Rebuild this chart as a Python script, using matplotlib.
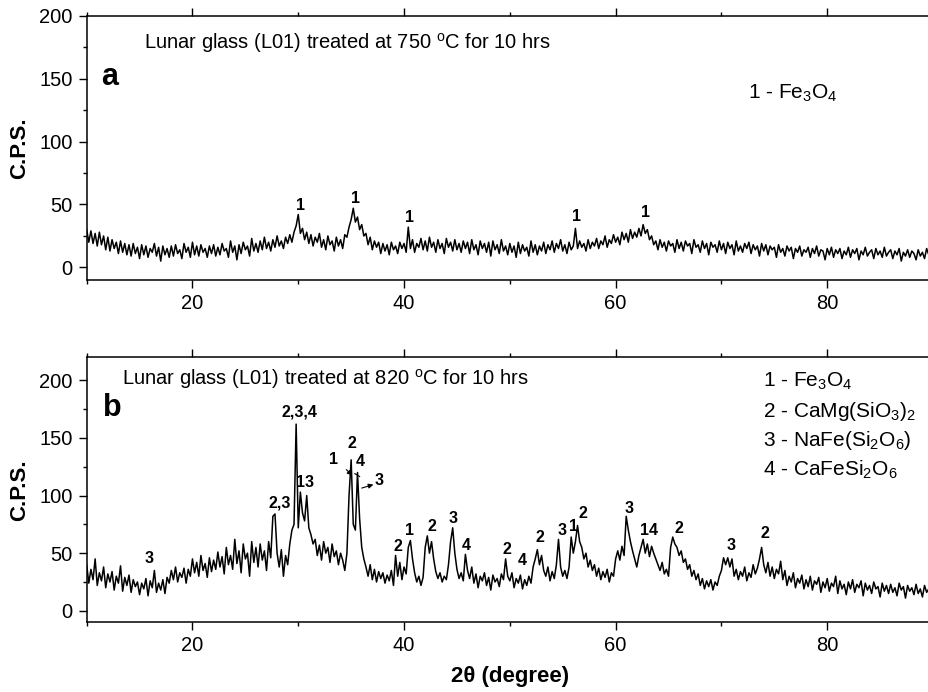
import numpy as np
import matplotlib
matplotlib.use('Agg')
import matplotlib.pyplot as plt
from matplotlib.ticker import MultipleLocator

plt.rcParams['font.family'] = ['Liberation Sans', 'DejaVu Sans']
plt.rcParams['mathtext.fontset'] = 'custom'
plt.rcParams['mathtext.rm'] = 'Liberation Sans'
plt.rcParams['mathtext.it'] = 'Liberation Sans:italic'
plt.rcParams['mathtext.bf'] = 'Liberation Sans:bold'

# 2theta grid, 0.2 degree step (20 values per row = 4 degrees)
two_theta = np.arange(10, 90.001, 0.2)

# (a) 750 C, counts
cps_750 = [
    30, 20, 29, 19, 27, 17, 28, 18, 25, 14, 24, 13, 22, 15, 20, 11, 21, 12, 19, 10,
    18, 9, 19, 11, 16, 7, 18, 10, 17, 8, 15, 12, 19, 9, 16, 5, 17, 10, 15, 8,
    17, 9, 18, 11, 14, 7, 19, 12, 16, 8, 20, 10, 17, 9, 18, 12, 15, 8, 17, 11,
    18, 9, 16, 10, 19, 13, 15, 8, 21, 12, 17, 6, 18, 11, 20, 14, 17, 9, 23, 13,
    19, 12, 21, 14, 24, 15, 20, 13, 22, 16, 25, 17, 21, 15, 24, 19, 26, 20, 28, 33,
    42, 27, 31, 22, 28, 19, 26, 17, 24, 20, 27, 16, 22, 14, 25, 18, 21, 13, 24, 17,
    22, 15, 26, 24, 32, 38, 47, 36, 40, 30, 34, 25, 27, 18, 24, 14, 21, 16, 20, 11,
    19, 13, 18, 10, 20, 14, 17, 11, 20, 15, 19, 12, 32, 15, 22, 12, 19, 16, 23, 14,
    21, 13, 24, 16, 20, 12, 22, 15, 19, 11, 23, 16, 20, 13, 22, 14, 19, 12, 21, 15,
    20, 11, 22, 14, 18, 10, 21, 15, 19, 12, 20, 9, 21, 14, 18, 11, 22, 13, 17, 10,
    19, 12, 17, 8, 20, 11, 18, 13, 16, 9, 21, 12, 18, 10, 17, 13, 20, 11, 18, 14,
    21, 12, 19, 15, 22, 13, 18, 11, 20, 14, 17, 31, 15, 21, 16, 19, 13, 22, 15, 20,
    17, 23, 15, 21, 18, 25, 16, 22, 19, 26, 20, 24, 18, 28, 22, 27, 20, 30, 23, 28,
    24, 31, 25, 34, 27, 30, 22, 25, 18, 21, 14, 22, 16, 20, 13, 21, 17, 19, 12, 22,
    15, 20, 13, 21, 17, 19, 11, 22, 16, 18, 12, 21, 15, 19, 10, 20, 16, 18, 12, 21,
    14, 19, 11, 20, 15, 18, 10, 21, 13, 17, 12, 19, 15, 20, 11, 18, 14, 17, 9, 19,
    13, 18, 10, 17, 14, 16, 8, 18, 12, 15, 9, 17, 13, 16, 7, 15, 12, 17, 9, 14,
    12, 16, 8, 15, 11, 17, 9, 14, 13, 6, 15, 10, 16, 8, 14, 11, 15, 7, 13, 10,
    16, 8, 14, 11, 15, 6, 13, 10, 16, 9, 12, 14, 7, 15, 10, 13, 8, 16, 9, 12,
    14, 7, 13, 10, 15, 5, 12, 9, 14, 8, 13, 11, 6, 14, 9, 12, 7, 15, 10, 13,
    11,
]

# (b) 820 C
cps_820 = [
    40, 24, 36, 27, 45, 22, 33, 26, 38, 20, 32, 25, 34, 18, 30, 24, 39, 17, 29, 22,
    31, 16, 27, 21, 25, 14, 24, 19, 28, 13, 26, 20, 35, 16, 24, 18, 27, 15, 29, 24,
    35, 27, 38, 25, 33, 29, 37, 24, 36, 30, 45, 33, 42, 30, 48, 35, 41, 29, 46, 34,
    44, 36, 51, 38, 47, 32, 55, 40, 48, 36, 62, 41, 52, 33, 58, 45, 50, 30, 60, 42,
    55, 38, 58, 44, 52, 35, 60, 46, 82, 84, 50, 38, 53, 30, 48, 40, 58, 70, 75, 162,
    72, 103, 85, 78, 100, 72, 66, 58, 62, 48, 57, 44, 60, 50, 55, 42, 58, 47, 52, 40,
    50, 44, 35, 50, 100, 131, 75, 70, 120, 80, 55, 45, 38, 30, 40, 27, 36, 25, 34, 28,
    33, 24, 31, 26, 35, 22, 48, 30, 42, 27, 38, 32, 55, 61, 45, 33, 25, 30, 22, 29,
    55, 65, 50, 60, 45, 34, 28, 33, 25, 30, 27, 40, 60, 72, 50, 36, 28, 33, 26, 49,
    35, 28, 38, 24, 32, 20, 30, 26, 33, 22, 29, 18, 31, 25, 28, 21, 32, 27, 45, 30,
    26, 33, 20, 28, 24, 31, 19, 27, 22, 30, 24, 38, 45, 53, 40, 48, 35, 30, 38, 26,
    34, 28, 40, 62, 38, 30, 35, 28, 38, 64, 50, 60, 74, 60, 55, 45, 50, 38, 44, 35,
    40, 30, 37, 27, 34, 29, 36, 25, 33, 30, 45, 52, 44, 56, 48, 82, 70, 60, 52, 45,
    38, 48, 55, 62, 50, 58, 47, 56, 50, 45, 40, 35, 42, 32, 36, 30, 55, 64, 58, 55,
    48, 52, 42, 45, 36, 40, 30, 35, 27, 32, 22, 28, 19, 26, 21, 27, 18, 25, 22, 30,
    35, 46, 40, 46, 38, 45, 30, 36, 27, 34, 30, 38, 26, 33, 29, 40, 32, 37, 45, 55,
    40, 33, 42, 30, 38, 28, 36, 32, 43, 27, 35, 22, 30, 25, 33, 20, 28, 24, 31, 19,
    27, 21, 30, 18, 26, 23, 29, 16, 25, 20, 28, 17, 24, 21, 30, 15, 26, 19, 23, 14,
    25, 19, 27, 16, 23, 20, 26, 13, 24, 18, 22, 15, 25, 19, 21, 12, 24, 17, 22, 15,
    23, 16, 20, 13, 24, 18, 21, 11, 22, 17, 20, 14, 23, 15, 19, 12, 22, 16, 19, 13,
    20,
]

# peak labels: (2theta, cps, text)
peaks_750 = [(30.2, 49, '1'), (35.4, 55, '1'), (40.55, 40, '1'),
             (56.3, 40.5, '1'), (62.8, 44, '1')]
peaks_820 = [(15.9, 45.5, '3'), (28.2, 93.5, '2,3'), (30.1, 172.5, '2,3,4'),
             (30.6, 111, '13'), (33.3, 131, '1'), (35.05, 145, '2'),
             (35.9, 129.5, '4'), (37.6, 113, '3'), (39.45, 55.5, '2'),
             (40.55, 70, '1'), (42.6, 73, '2'), (44.6, 80, '3'), (45.9, 57, '4'),
             (49.7, 53, '2'), (51.2, 43.5, '4'), (52.85, 64, '2'), (54.9, 69.5, '3'),
             (56.05, 73, '1'), (56.9, 84, '2'), (61.25, 88.5, '3'), (63.2, 69.5, '14'),
             (65.95, 71.5, '2'), (70.95, 57, '3'), (74.1, 67.5, '2')]

phases_750 = ['1 - Fe$_3$O$_4$']
phases_820 = ['1 - Fe$_3$O$_4$', '2 - CaMg(SiO$_3$)$_2$',
              '3 - NaFe(Si$_2$O$_6$)', '4 - CaFeSi$_2$O$_6$']


def style_axis(ax, ymax):
    ax.set_xlim(10, 90)
    ax.set_ylim(-10, ymax)
    ax.xaxis.set_major_locator(MultipleLocator(20))
    ax.xaxis.set_minor_locator(MultipleLocator(10))
    ax.yaxis.set_major_locator(MultipleLocator(50))
    ax.yaxis.set_minor_locator(MultipleLocator(25))
    ax.tick_params(which='both', direction='out', top=True, right=False,
                   labelsize=14.5, width=1)
    ax.tick_params(which='major', length=6, pad=4)
    ax.tick_params(which='minor', length=3)
    ax.spines['right'].set_visible(False)
    for s in ax.spines.values():
        s.set_linewidth(1.1)
    ax.set_ylabel('C.P.S.', fontsize=16, fontweight='bold')
    ax.yaxis.set_label_coords(-0.067, 0.5)


fig = plt.figure(figsize=(9.29, 6.92), dpi=100)
ax1 = fig.add_axes([0.0933, 0.5954, 0.911, 0.382])
ax2 = fig.add_axes([0.0933, 0.1007, 0.911, 0.383])

ax1.plot(two_theta, cps_750, color='black', lw=1.1)
style_axis(ax1, 200)
ax1.text(15.4, 173.6, 'Lunar glass (L01) treated at 750 $^{\\mathrm{o}}$C for 10 hrs',
         fontsize=14.5)
ax1.text(11.4, 145, 'a', fontsize=22, fontweight='bold')
for i, t in enumerate(phases_750):
    ax1.text(72.5, 133.8 - i * 26, t, fontsize=15)
for x, y, t in peaks_750:
    ax1.text(x, y, t, fontsize=11.5, fontweight='bold', ha='center', va='center')

ax2.plot(two_theta, cps_820, color='black', lw=1.1)
style_axis(ax2, 220)
ax2.text(13.3, 196.3, 'Lunar glass (L01) treated at 820 $^{\\mathrm{o}}$C for 10 hrs',
         fontsize=14.5)
ax2.text(11.57, 168.7, 'b', fontsize=22, fontweight='bold')
for i, t in enumerate(phases_820):
    ax2.text(73.9, 194.3 - i * 25.8, t, fontsize=15)
for x, y, t in peaks_820:
    ax2.text(x, y, t, fontsize=11.5, fontweight='bold', ha='center', va='center')

# small arrows near the 35 degree doublet
arrow = dict(arrowstyle='-|>', lw=0.8, color='black', mutation_scale=7,
             shrinkA=0, shrinkB=0)
ax2.annotate('', xy=(35.1, 117.5), xytext=(34.55, 122.5), arrowprops=arrow)
ax2.annotate('', xy=(37.1, 109.5), xytext=(36.0, 106.5), arrowprops=arrow)
ax2.plot([35.35, 35.8], [119, 116.5], color='black', lw=0.8)

ax2.set_xlabel('2\u03b8 (degree)', fontsize=16, fontweight='bold')
ax2.xaxis.set_label_coords(0.5, -0.165)
ax2.xaxis.label.set_va('top')

fig.savefig('out.png', dpi=100)
